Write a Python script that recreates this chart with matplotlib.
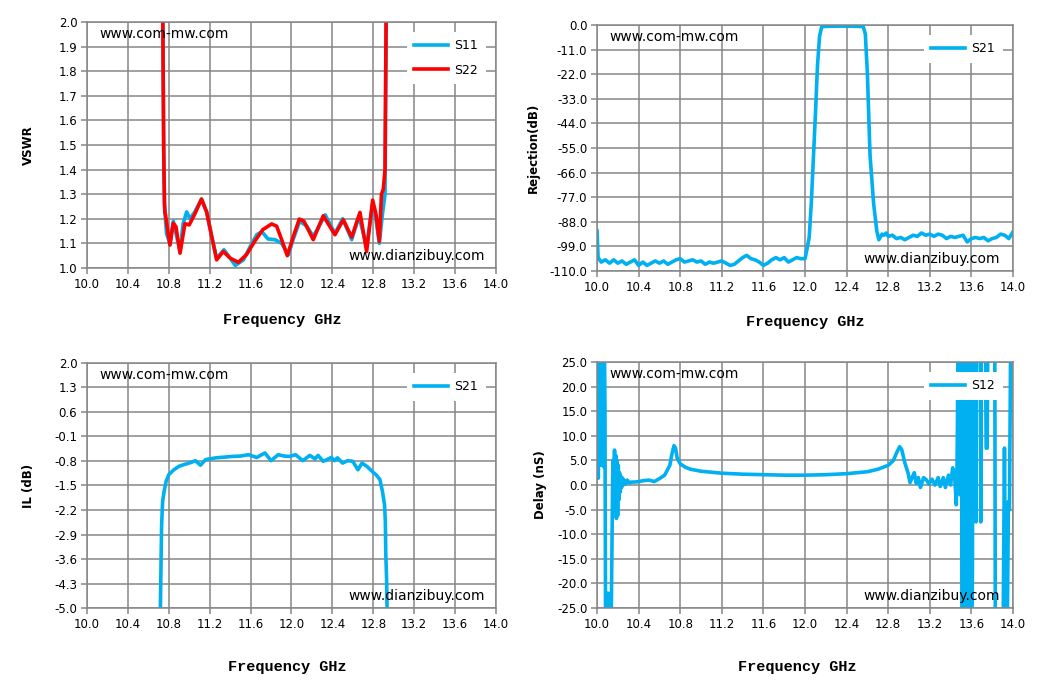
import matplotlib
matplotlib.use("Agg")
import matplotlib.pyplot as plt
import numpy as np

BLUE = "#00b0f0"
RED = "#ff0000"
GRID = "#868686"

# ---- VSWR (top left) ----
f_s11 = [10.735, 10.745, 10.752, 10.758, 10.763, 10.778, 10.81, 10.844, 10.877, 10.91, 10.94, 10.975,
         11.007, 11.055, 11.12, 11.17, 11.22, 11.268, 11.34, 11.40, 11.45, 11.53, 11.60, 11.66, 11.71,
         11.77, 11.84, 11.904, 11.97, 12.02, 12.08, 12.15, 12.213, 12.27, 12.33, 12.425, 12.50, 12.589,
         12.66, 12.735, 12.794, 12.825, 12.859, 12.89, 12.915, 12.922, 12.93, 12.94]
s11 = [2.5, 1.8, 1.4, 1.26, 1.22, 1.14, 1.10, 1.19, 1.128, 1.067, 1.18, 1.228,
       1.20, 1.228, 1.28, 1.228, 1.128, 1.04, 1.074, 1.04, 1.01, 1.033, 1.09, 1.135, 1.148,
       1.118, 1.115, 1.10, 1.054, 1.12, 1.19, 1.17, 1.128, 1.17, 1.216, 1.14, 1.20, 1.115,
       1.21, 1.087, 1.262, 1.20, 1.10, 1.22, 1.30, 1.75, 2.1, 2.5]

f_s22 = [10.735, 10.742, 10.75, 10.758, 10.763, 10.768, 10.79, 10.812, 10.844, 10.87, 10.91, 10.958,
         11.0, 11.055, 11.12, 11.17, 11.22, 11.268, 11.333, 11.40, 11.48, 11.56, 11.64, 11.72,
         11.806, 11.855, 11.904, 11.959, 12.018, 12.077, 12.122, 12.213, 12.311, 12.425, 12.507,
         12.589, 12.67, 12.735, 12.794, 12.826, 12.859, 12.88, 12.898, 12.915, 12.92, 12.925, 12.935]
s22 = [2.5, 2.0, 1.5, 1.26, 1.224, 1.217, 1.15, 1.093, 1.182, 1.168, 1.06, 1.18,
       1.175, 1.22, 1.28, 1.228, 1.128, 1.033, 1.067, 1.04, 1.023, 1.054, 1.108, 1.156,
       1.179, 1.17, 1.115, 1.05, 1.128, 1.199, 1.19, 1.115, 1.212, 1.135, 1.196,
       1.125, 1.226, 1.067, 1.276, 1.22, 1.108, 1.30, 1.32, 1.40, 1.7, 2.0, 2.5]

# ---- Rejection (top right) ----
f_rej = [10.00, 10.01, 10.04, 10.08, 10.12, 10.16, 10.20, 10.24, 10.28, 10.32, 10.36, 10.40, 10.44,
         10.48, 10.52, 10.56, 10.60, 10.64, 10.68, 10.72, 10.76, 10.80, 10.84, 10.88, 10.92, 10.96,
         11.00, 11.04, 11.08, 11.12, 11.16, 11.20, 11.24, 11.28, 11.32, 11.36, 11.40, 11.44, 11.48,
         11.52, 11.56, 11.60, 11.64, 11.68, 11.72, 11.76, 11.80, 11.84, 11.88, 11.92, 11.96, 12.00,
         12.02, 12.04, 12.06, 12.08, 12.10, 12.12, 12.14, 12.16, 12.20, 12.30, 12.40, 12.50, 12.56,
         12.58, 12.60, 12.625, 12.66, 12.69, 12.71, 12.74, 12.76, 12.78, 12.80, 12.84, 12.88, 12.92,
         12.96, 13.00, 13.04, 13.08, 13.12, 13.16, 13.20, 13.24, 13.28, 13.32, 13.36, 13.40, 13.44,
         13.48, 13.52, 13.56, 13.60, 13.64, 13.68, 13.72, 13.76, 13.80, 13.84, 13.88, 13.92, 13.96,
         14.00]
rej = [-92, -104, -106, -105, -106.5, -105, -106.5, -105.5, -107, -106, -105, -107.5, -106,
       -107.5, -106.5, -105.5, -106.5, -105.5, -107, -106, -105, -104.5, -106, -105.5, -105, -106,
       -105.5, -107, -106, -106.5, -106, -105.5, -106.5, -107.5, -107, -105.5, -104, -103, -104.5,
       -105, -106, -107.5, -106.5, -105, -104, -105, -104, -106, -105, -104, -104.5, -104.5,
       -100, -95, -80, -60, -40, -18, -5, -0.8, -0.6, -0.5, -0.5, -0.6, -0.7,
       -4, -22, -58, -80, -92, -96, -93.5, -94, -93, -94.5, -94, -95.5, -95,
       -96, -95, -94, -94.5, -93, -94, -93.5, -94.5, -93.5, -94, -95.5, -94.5, -95,
       -94.5, -94, -97, -95.5, -95, -95.5, -95, -96.5, -95.5, -95, -93.5, -94, -95.5,
       -92.5]

# ---- Insertion loss (bottom left) ----
f_il = [10.716, 10.718, 10.722, 10.73, 10.74, 10.754, 10.774, 10.80, 10.85, 10.90, 10.963, 11.02,
        11.06, 11.11, 11.16, 11.26, 11.34, 11.42, 11.50, 11.58, 11.66, 11.74, 11.80, 11.87, 11.93,
        11.98, 12.04, 12.11, 12.18, 12.23, 12.26, 12.31, 12.39, 12.42, 12.45, 12.50, 12.55, 12.60,
        12.65, 12.69, 12.74, 12.79, 12.83, 12.865, 12.89, 12.91, 12.918, 12.922, 12.93, 12.935, 12.94]
il = [-5.5, -5.0, -4.14, -2.62, -1.95, -1.67, -1.38, -1.19, -1.05, -0.95, -0.89, -0.84,
      -0.79, -0.92, -0.76, -0.71, -0.69, -0.67, -0.66, -0.62, -0.70, -0.57, -0.79, -0.62, -0.66,
      -0.67, -0.62, -0.79, -0.64, -0.74, -0.64, -0.81, -0.70, -0.79, -0.71, -0.86, -0.79, -0.81,
      -1.05, -0.86, -0.96, -1.10, -1.20, -1.33, -1.67, -2.05, -2.5, -3.4, -4.14, -5.0, -5.5]

# ---- Group delay (bottom right) ----
f_dl = [10.000, 10.005, 10.012, 10.018, 10.026, 10.032, 10.040, 10.046, 10.052, 10.058, 10.064,
        10.070, 10.076, 10.082, 10.092, 10.098, 10.104, 10.110, 10.116, 10.135, 10.150, 10.155,
        10.162, 10.168, 10.174, 10.180, 10.186, 10.192, 10.198, 10.204, 10.210, 10.216, 10.222,
        10.228, 10.236, 10.244, 10.252, 10.260, 10.275, 10.290, 10.310, 10.330, 10.360, 10.40,
        10.45, 10.50, 10.55, 10.60, 10.65, 10.70, 10.72, 10.74, 10.755, 10.77, 10.80, 10.85, 10.90,
        11.00, 11.20, 11.40, 11.60, 11.80, 12.00, 12.20, 12.40, 12.60, 12.70, 12.80, 12.85, 12.88,
        12.91, 12.93, 12.96, 12.99, 13.01, 13.03, 13.05, 13.07, 13.09, 13.11, 13.14, 13.17, 13.19,
        13.22, 13.25, 13.28, 13.30, 13.33, 13.35, 13.38, 13.40, 13.42, 13.44, 13.455, 13.462,
        13.466, 13.472, 13.488, 13.492, 13.496, 13.505, 13.509, 13.520, 13.524, 13.534, 13.538,
        13.552, 13.556, 13.578, 13.582, 13.605, 13.610, 13.614, 13.640, 13.644, 13.648, 13.685,
        13.690, 13.695, 13.735, 13.742, 13.752, 13.758, 13.825, 13.830, 13.905, 13.918, 13.930,
        13.945, 13.956, 13.966, 13.978, 14.000]
delay = [1.4, 30, 1.4, 30, 16, 30, 4, 30, 6.4, 30, 3.7,
         30, 16, -30, -30, -30, -22, -22, -30, -30, 1.4, 5,
         -3, 7.1, -5, 6, -6.8, 5, -6.2, 4, -3, 2.5, -1.5,
         1.8, -0.5, 1.4, 0, 1.0, 0.2, 1.0, 0.4, 0.6, 0.6, 0.7,
         0.9, 1.0, 0.7, 1.3, 2.0, 4.0, 6.3, 8.0, 7.5, 5.5, 4.3, 3.6, 3.2,
         2.8, 2.4, 2.2, 2.1, 2.0, 2.0, 2.1, 2.3, 2.7, 3.2, 4.0, 5.0, 6.5,
         7.8, 7.2, 4.5, 2.5, 0.5, 1.5, 2.5, 0.3, 1.5, -0.5, 1.5, 1.0, 0.2,
         1.2, 0, 1.5, -0.3, 1.5, -0.5, 2.0, 0, 3.5, 1.5, -4, 4,
         12.9, 30, 30, -2, 30, 30, -30, -30, 30, 30, -30,
         -30, 30, 30, -30, -30, -17, 30, 30, -7.5, 30, 30,
         -7.5, 30, 30, 7.5, 7.5, 30, 30, -30, -30, 7.5, -30,
         -30, -3.4, -5, 30, 30]

xticks = np.arange(10.0, 14.01, 0.4)


def style_axes(ax, yticks, ylabel, label_x, xlabel_x, xlabel_y):
    ax.set_xlim(10.0, 14.0)
    ax.set_ylim(yticks[0], yticks[-1])
    ax.set_xticks(xticks)
    ax.set_xticklabels(["%.1f" % v for v in xticks])
    ax.set_yticks(yticks)
    ax.set_yticklabels(["%.1f" % v for v in yticks])
    ax.grid(True, color=GRID, linewidth=1.1)
    ax.set_axisbelow(True)
    for s in ax.spines.values():
        s.set_color(GRID)
        s.set_linewidth(1.1)
    ax.tick_params(axis="both", direction="out", length=4, width=1.1, color=GRID,
                   labelsize=8.5, labelcolor="black", pad=3)
    ax.set_ylabel(ylabel, fontsize=8.5, fontweight="bold")
    ax.yaxis.set_label_coords(label_x, 0.5)
    ax.set_xlabel("Frequency GHz", fontsize=11, fontweight="bold", family="Liberation Mono")
    ax.xaxis.set_label_coords(xlabel_x, xlabel_y)
    ax.text(0.03, 0.952, "www.com-mw.com", transform=ax.transAxes, fontsize=10,
            va="center", ha="left")
    ax.text(0.64, 0.05, "www.dianzibuy.com", transform=ax.transAxes, fontsize=10,
            va="center", ha="left")


def add_legend(ax):
    leg = ax.legend(loc="upper right", bbox_to_anchor=(0.99, 0.985), fontsize=9,
                    handlelength=2.7, handletextpad=0.5, labelspacing=0.9,
                    frameon=True, facecolor="white", edgecolor="none", framealpha=1,
                    borderpad=0.6, fancybox=False)
    leg.set_zorder(5)


fig = plt.figure(figsize=(10.53, 6.91), dpi=100)

ax1 = fig.add_axes([0.0826, 0.6122, 0.3884, 0.356])
ax1.plot(f_s11, s11, color=BLUE, lw=2.6, label="S11", solid_joinstyle="round")
ax1.plot(f_s22, s22, color=RED, lw=2.6, label="S22", solid_joinstyle="round")
style_axes(ax1, np.round(np.arange(1.0, 2.001, 0.1), 1), "VSWR", -0.127, 0.477, -0.182)
add_legend(ax1)

ax2 = fig.add_axes([0.567, 0.6078, 0.395, 0.356])
ax2.plot(f_rej, rej, color=BLUE, lw=2.6, label="S21", solid_joinstyle="round")
style_axes(ax2, np.arange(-110.0, 0.01, 11.0), "Rejection(dB)", -0.137, 0.5, -0.179)
add_legend(ax2)

ax3 = fig.add_axes([0.0826, 0.1201, 0.3884, 0.3546])
ax3.plot(f_il, il, color=BLUE, lw=2.6, label="S21", solid_joinstyle="round")
style_axes(ax3, np.round(np.arange(-5.0, 2.01, 0.7), 1), "IL (dB)", -0.127, 0.489, -0.211)
add_legend(ax3)

ax4 = fig.add_axes([0.567, 0.1201, 0.395, 0.356])
ax4.plot(f_dl, delay, color=BLUE, lw=2.6, label="S12", solid_joinstyle="round")
style_axes(ax4, np.arange(-25.0, 25.01, 5.0), "Delay (nS)", -0.12, 0.481, -0.211)
add_legend(ax4)

fig.savefig("out.png", dpi=100)
